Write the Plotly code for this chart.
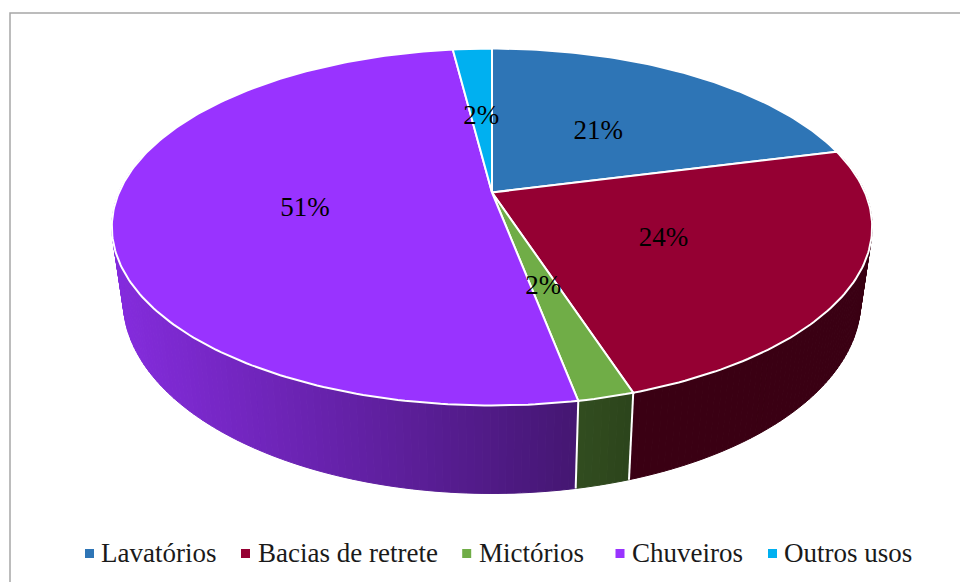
import numpy as np
import plotly.graph_objects as go

categories = ["Lavatórios", "Bacias de retrete", "Mictórios", "Chuveiros", "Outros usos"]
values = [21, 24, 2, 51, 2]
colors = ["#2E75B6", "#950033", "#70AD47", "#9933FF", "#00B0F0"]
rgb = [(46, 117, 182), (149, 0, 51), (112, 173, 71), (153, 51, 255), (0, 176, 240)]
legend_marker_x = [89.5, 245.5, 466.7, 620, 772.5]
legend_text_x = [101.5, 258.5, 479.5, 633, 785]

CX, CY, R, B, K = 492.0, 192.5, 373.0, 171.8, 0.1933
WALL_H, WALL_SHRINK = 71.0, 0.97
LABEL_DY = 3.0


def project(theta, r=1.0):
    X, Z = np.sin(theta) * r, np.cos(theta) * r
    w = 1 / (1 + K * Z)
    return CX + R * X * w, CY - B * Z * w, w


def project_bottom(theta):
    x, y, w = project(theta)
    return CX + WALL_SHRINK * (x - CX), y + WALL_H * w


def shade(x):
    f = 0.87 - 0.42 * (x - 115) / 460
    return max(f, 0.39)


cum = np.cumsum([0] + values) / sum(values) * 2 * np.pi
fig = go.Figure()

# side wall, painted back to front in thin facets
for i in range(len(values)):
    a0, a1 = cum[i], cum[i + 1]
    n = max(2, int(np.degrees(a1 - a0)))
    edges = np.linspace(a0, a1, n + 1)
    for t0, t1 in zip(edges[:-1], edges[1:]):
        tm = (t0 + t1) / 2
        if np.cos(tm) > 0.25:
            continue
        ts = np.linspace(t0, t1, 3)
        xt, yt, _ = project(ts)
        xb, yb = project_bottom(ts[::-1])
        xs = np.r_[xt, xb, xt[0]]
        ys = np.r_[yt, yb, yt[0]]
        f = shade(float(np.mean(xs)))
        c = "rgb(%d,%d,%d)" % tuple(int(v * f) for v in rgb[i])
        fig.add_trace(go.Scatter(x=xs, y=ys, mode="lines", fill="toself", fillcolor=c,
                                 line=dict(color=c, width=1), hoverinfo="skip", showlegend=False))

# white separators on the wall
for a in cum[:-1]:
    if np.cos(a) < 0:
        xt, yt, _ = project(a)
        xb, yb = project_bottom(a)
        fig.add_trace(go.Scatter(x=[xt, xb], y=[yt, yb], mode="lines",
                                 line=dict(color="white", width=2), hoverinfo="skip", showlegend=False))

# top face
for i in range(len(values)):
    ts = np.linspace(cum[i], cum[i + 1], max(4, int(values[i] * 4)))
    x, y, _ = project(ts)
    xs = np.r_[CX, x, CX]
    ys = np.r_[CY, y, CY]
    fig.add_trace(go.Scatter(x=xs, y=ys, mode="lines", fill="toself", fillcolor=colors[i],
                             line=dict(color="white", width=2), hoverinfo="skip", showlegend=False))

# data labels
mid = (cum[:-1] + cum[1:]) / 2
lx, ly, _ = project(mid, 0.5)
fig.add_trace(go.Scatter(x=lx, y=ly + LABEL_DY, mode="text", text=[f"{v}%" for v in values],
                         textposition="middle center",
                         textfont=dict(family="Liberation Serif", size=27, color="black"),
                         hoverinfo="skip", showlegend=False))

# legend
fig.add_trace(go.Scatter(x=legend_marker_x, y=[553.5] * 5, mode="markers",
                         marker=dict(symbol="square", size=9, color=colors, line=dict(width=0)),
                         hoverinfo="skip", showlegend=False))
annotations = [dict(x=tx, y=552.5, text=c, xref="x", yref="y", xanchor="left", yanchor="middle",
                    showarrow=False, xshift=-2, borderpad=0,
                    font=dict(family="Liberation Serif", size=27, color="#1a1a1a"))
               for tx, c in zip(legend_text_x, categories)]

fig.update_layout(
    width=960, height=582, margin=dict(l=0, r=0, t=0, b=0),
    paper_bgcolor="white", plot_bgcolor="white", showlegend=False,
    xaxis=dict(range=[0, 960], visible=False, fixedrange=True),
    yaxis=dict(range=[582, 0], visible=False, fixedrange=True),
    annotations=annotations,
    shapes=[dict(type="rect", xref="x", yref="y", x0=10, y0=13, x1=975, y1=600,
                 line=dict(color="#a6a6a6", width=1.5), layer="below")],
)
fig.write_html("out.html", config={"displayModeBar": False},
               post_script="document.body.style.margin='0';document.body.style.overflow='hidden';")
